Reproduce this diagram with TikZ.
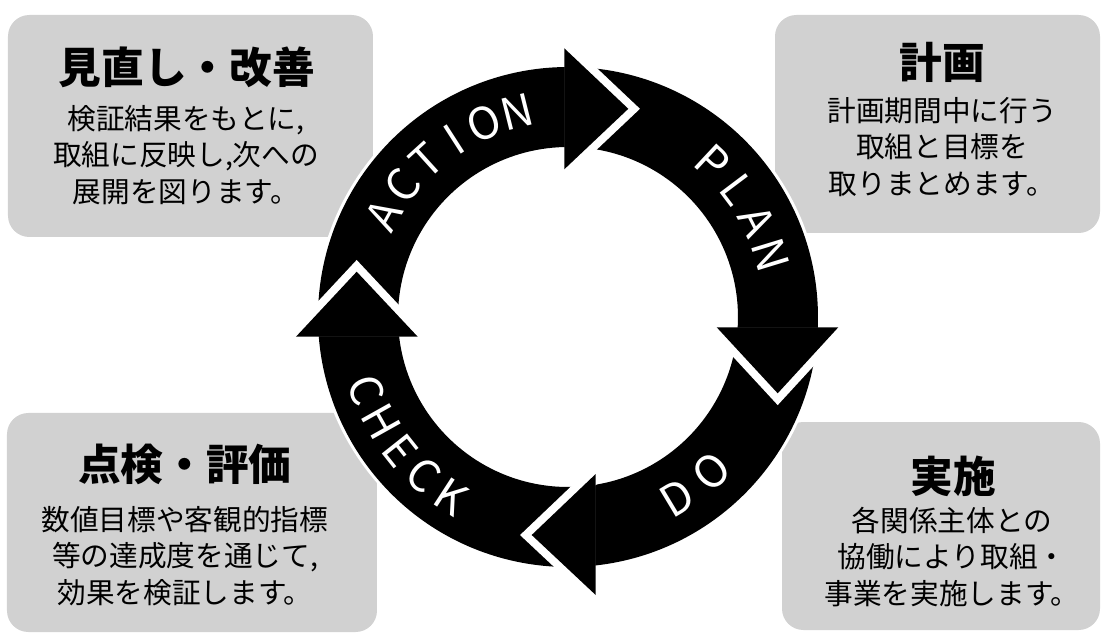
\documentclass[tikz,border=0pt]{standalone}
\usepackage{fontspec}
\setmainfont{Noto Sans CJK JP}
\definecolor{boxgray}{RGB}{209,209,209}
\begin{document}
\begin{tikzpicture}[x=0.75pt,y=0.75pt,
  box/.style={fill=boxgray, rounded corners=16pt},
  ttl/.style={font=\fontsize{32}{38}\selectfont\bfseries, inner sep=0pt},
  body/.style={font=\fontsize{21.5}{27.4}\selectfont, align=center, inner sep=0pt},
  band/.style={fill=black},
  headgap/.style={draw=white, line width=12pt, miter limit=10},
  headfill/.style={fill=black},
  lt/.style={text=white, font=\fontsize{33}{33}\selectfont, inner sep=0pt}
]
\useasboundingbox (-568,-318) rectangle (535,317);
% boxes
\fill[box] (-560,80) rectangle (-195,302);
\fill[box] (207,84) rectangle (532,302);
\fill[box] (-561,-315) rectangle (-191,-96);
\fill[box] (214,-313) rectangle (532,-105);
% box texts
\node[ttl] (t1) at (-381,250) {見直し・改善};
\node[body] (b1) at (-382,162) {検証結果をもとに,\\取組に反映し,次への\\展開を図ります。};
\node[ttl] (t2) at (374,255) {計画};
\node[body] (b2) at (374,170) {計画期間中に行う\\取組と目標を\\取りまとめます。};
\node[ttl] (t3) at (-383,-147) {点検・評価};
\node[body] (b3) at (-383,-239) {数値目標や客観的指標\\等の達成度を通じて,\\効果を検証します。};
\node[ttl] (t4) at (385,-159) {実施};
\node[body] (b4) at (384,-240) {各関係主体との\\協働により取組・\\事業を実施します。};
% white rim around ring
\fill[white] (0,0) circle[radius=253];
% bands
\fill[band] (184.52:250) arc[start angle=184.52, end angle=90.85, radius=250]
  -- (91.25:170) arc[start angle=91.25, end angle=186.65, radius=170] -- cycle;
\fill[band] (90.85:250) arc[start angle=90.85, end angle=-2.36, radius=250]
  -- (-3.47:170) arc[start angle=-3.47, end angle=91.25, radius=170] -- cycle;
\fill[band] (-2.36:250) arc[start angle=-2.36, end angle=-83.64, radius=250]
  -- (-80.62:170) arc[start angle=-80.62, end angle=-3.47, radius=170] -- cycle;
\fill[band] (-83.64:250) arc[start angle=-83.64, end angle=-175.48, radius=250]
  -- (-173.35:170) arc[start angle=-173.35, end angle=-80.62, radius=170] -- cycle;
% heads: ACTION
\draw[headgap] (-3.7,268.7) -- (60.3,208.2) -- (-3.7,147.7);
\fill[headfill] (-3.7,268.7) -- (60.3,208.2) -- (-3.7,147.7) -- cycle;
% PLAN
\draw[headgap] (148.7,-10.3) -- (209.7,-76.3) -- (270.3,-10.3);
\fill[headfill] (148.7,-10.3) -- (209.7,-76.3) -- (270.3,-10.3) -- cycle;
% DO
\draw[headgap] (27.7,-157) -- (-36.3,-218) -- (27.7,-278);
\fill[headfill] (27.7,-157) -- (-36.3,-218) -- (27.7,-278) -- cycle;
% CHECK
\draw[headgap] (-272,-19.7) -- (-211.3,45.3) -- (-150.3,-19.7);
\fill[headfill] (-272,-19.7) -- (-211.3,45.3) -- (-150.3,-19.7) -- cycle;
% ring labels
\foreach \a/\l [count=\i] in {151/A,141.6/C,132.2/T,122.8/I,113.4/O,104/N}
  \node[lt, rotate=\a-90] (act\i) at (\a:211) {\l};
\foreach \a/\l [count=\i] in {47/P,37/L,27/A,17/N}
  \node[lt, rotate=\a-90] (pla\i) at (\a:212) {\l};
\foreach \a/\l [count=\i] in {-59/D,-47/O}
  \node[lt, rotate=\a+90] (do\i) at (\a:211) {\l};
\foreach \a/\l [count=\i] in {200/C,209.25/H,218.5/E,227.75/C,237/K}
  \node[lt, rotate=\a+90] (chk\i) at (\a:214) {\l};
\end{tikzpicture}
\end{document}
